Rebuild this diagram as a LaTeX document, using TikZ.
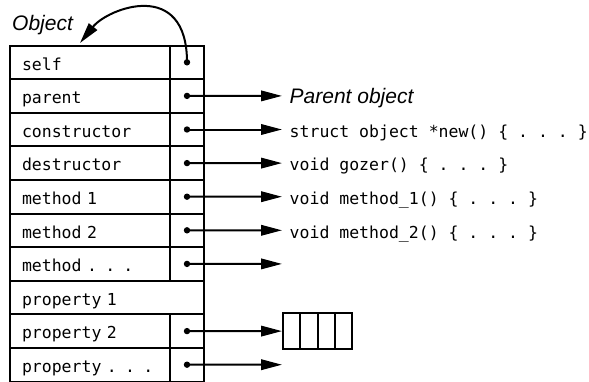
\documentclass[tikz,border=0pt]{standalone}
\usepackage{fontspec}
\setmainfont{Liberation Sans}
\setmonofont{DejaVu Sans Mono}
\usetikzlibrary{positioning,arrows.meta}

\begin{document}
\begin{tikzpicture}[x=1pt, y=-1pt,
  cell/.style={draw, line width=2pt, minimum height=33.6pt, inner sep=0pt,
    text height=15.5pt, text depth=0pt, font=\fontsize{16.5}{18}\selectfont\ttfamily},
  namecell/.style={cell, minimum width=160pt, text width=136pt, align=left},
  ptrcell/.style={cell, minimum width=34pt},
  target/.style={anchor=west, inner xsep=7.5pt, inner ysep=0pt, text height=15.5pt, text depth=0pt,
    font=\fontsize{16.5}{18}\selectfont\ttfamily},
  slot/.style={draw, line width=2pt, minimum width=17.25pt, minimum height=36pt, inner sep=0pt},
  ptr/.style={line width=2pt, -{Triangle[length=21pt, width=10.5pt]}}
]
  \useasboundingbox (0,0) rectangle (589,381);

  % Tabelle der Objektfelder
  \foreach \lbl [count=\i] in {self, parent, constructor, destructor, method 1, method 2,
      method . . ., property 1, property 2, property . . .}{
    \ifnum\i=8
      \node[namecell, minimum width=194pt, text width=170pt] (n\i) at (107, {45.5+33.6*(\i-0.5)}) {\lbl};
    \else
      \node[namecell] (n\i) at (90, {45.5+33.6*(\i-0.5)}) {\lbl};
      \node[ptrcell] (p\i) at (187, {45.5+33.6*(\i-0.5)}) {};
      \fill (p\i.center) circle[radius=3.2pt];
    \fi
  }

  % Beschriftung oben links
  \node[anchor=base west, inner sep=0pt, font=\fontsize{21}{24}\selectfont\itshape] (objlabel) at (12, 30.5) {Object};
  \coordinate (objtip) at (80, 43);
  \draw[ptr] (p1.center) .. controls (187,-22) and (108,8) .. (objtip);

  % Ziele der Zeiger
  \node[target, font=\fontsize{21}{24}\selectfont\itshape] (t2) at (282, 95.9) {Parent object};
  \node[target] (t3) at (282, 129.5) {struct object *new() \{ . . . \}};
  \node[target] (t4) at (282, 163.1) {void gozer() \{ . . . \}};
  \node[target] (t5) at (282, 196.7) {void method\_1() \{ . . . \}};
  \node[target] (t6) at (282, 230.3) {void method\_2() \{ . . . \}};
  \coordinate (e7) at (282, 263.9);
  \coordinate (e10) at (282, 364.7);

  % Feld fuer property 2
  \foreach \j in {1,...,4}
    \node[slot] (a\j) at ({283+17.25*(\j-0.5)}, 331.1) {};

  \foreach \i in {2,...,6}
    \draw[ptr] (p\i.center) -- (t\i.west);
  \draw[ptr] (p7.center) -- (e7);
  \draw[ptr] (p9.center) -- (a1.west);
  \draw[ptr] (p10.center) -- (e10);
\end{tikzpicture}
\end{document}
